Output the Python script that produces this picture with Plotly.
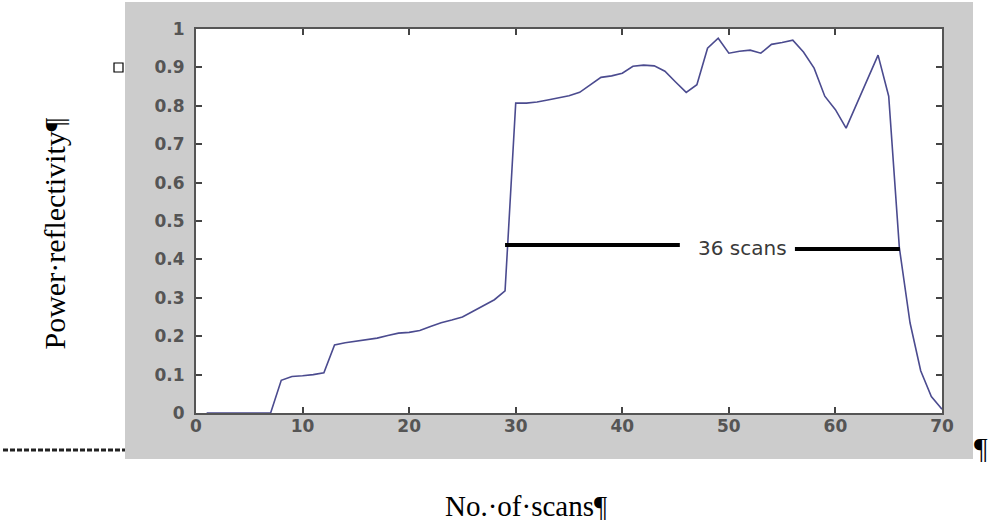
import plotly.graph_objects as go

# ---- data ----
scans = list(range(1, 71))
reflectivity = [
    0.0, 0.0, 0.0, 0.0, 0.0, 0.0, 0.0,            # 1-7
    0.085, 0.095, 0.097, 0.100, 0.105,            # 8-12
    0.177, 0.183, 0.187, 0.190, 0.195, 0.202, 0.208, 0.210,  # 13-20
    0.215, 0.225, 0.235, 0.242, 0.250,            # 21-25
    0.265, 0.280, 0.295, 0.318,                   # 26-29
    0.807, 0.807, 0.810, 0.815, 0.820, 0.826, 0.835,  # 30-36
    0.855, 0.874, 0.878, 0.885, 0.903, 0.906, 0.904,  # 37-43
    0.890, 0.862, 0.835, 0.855, 0.950, 0.976, 0.937,  # 44-50
    0.942, 0.945, 0.937, 0.960, 0.965, 0.971, 0.940,  # 51-57
    0.898, 0.825, 0.790, 0.742, 0.805, 0.868, 0.932,  # 58-64
    0.825, 0.430, 0.235, 0.110, 0.043, 0.010       # 65-70
]
x_ticks = [0, 10, 20, 30, 40, 50, 60, 70]
y_ticks = [0, 0.1, 0.2, 0.3, 0.4, 0.5, 0.6, 0.7, 0.8, 0.9, 1.0]
y_tick_labels = ["0", "0.1", "0.2", "0.3", "0.4", "0.5", "0.6", "0.7", "0.8", "0.9", "1"]
span_label = "36 scans"
x_title = "No.·of·scans¶"
y_title = "Power·reflectivity¶"

W, H = 988, 529
L, R, T, B = 196, 46, 29, 116
pw, ph = W - L - R, H - T - B

def px_x(p):
    return (p - L) / pw

def px_y(p):
    return (H - B - p) / ph

fig = go.Figure()
fig.add_trace(go.Scatter(
    x=scans, y=reflectivity, mode="lines",
    line=dict(color="#4b4b8f", width=1.6), showlegend=False,
    hoverinfo="skip"))

shapes = [
    # grey figure frame
    dict(type="rect", xref="paper", yref="paper", layer="below",
         x0=px_x(125), x1=px_x(973), y0=px_y(459), y1=px_y(2),
         fillcolor="#cccccc", line=dict(width=0)),
    # white plot area
    dict(type="rect", xref="paper", yref="paper", layer="below",
         x0=0, x1=1, y0=0, y1=1, fillcolor="white", line=dict(width=0)),
    # span markers
    dict(type="line", xref="x", yref="y", x0=29.0, x1=45.4, y0=0.4375, y1=0.4375,
         line=dict(color="black", width=4)),
    dict(type="line", xref="x", yref="y", x0=56.2, x1=66.05, y0=0.427, y1=0.427,
         line=dict(color="black", width=4)),
    # small square marker
    dict(type="rect", xref="paper", yref="paper",
         x0=px_x(114), x1=px_x(123), y0=px_y(72), y1=px_y(63),
         fillcolor="white", line=dict(color="black", width=1.2)),
    # dotted line
    dict(type="line", xref="paper", yref="paper",
         x0=px_x(3), x1=px_x(125), y0=px_y(450), y1=px_y(450),
         line=dict(color="#222222", width=3, dash="5px,2px")),
]

annotations = [
    dict(x=51.3, y=0.43, xref="x", yref="y", text=span_label, showarrow=False,
         font=dict(family="DejaVu Sans", size=20, color="#3a3a3a")),
    dict(x=px_x(526), y=px_y(524), xref="paper", yref="paper", text=x_title,
         showarrow=False, font=dict(family="Liberation Serif", size=29, color="black")),
    dict(x=px_x(35), y=px_y(234), xref="paper", yref="paper", text=y_title,
         textangle=-90, showarrow=False,
         font=dict(family="Liberation Serif", size=30, color="black")),
    dict(x=px_x(972), y=px_y(466), xref="paper", yref="paper", text="¶",
         xanchor="left", showarrow=False,
         font=dict(family="Liberation Serif", size=30, color="black")),
]

axis_common = dict(
    showline=True, linecolor="#555555", linewidth=2, mirror="allticks",
    ticks="inside", ticklen=6, tickcolor="#444444", tickwidth=1.5,
    showgrid=False, zeroline=False,
    tickfont=dict(family="DejaVu Sans", size=17, color="#555555", weight="bold"),
)

fig.update_layout(
    width=W, height=H,
    margin=dict(l=L, r=R, t=T, b=B, autoexpand=False),
    paper_bgcolor="white", plot_bgcolor="white",
    shapes=shapes, annotations=annotations,
    xaxis=dict(range=[0, 70], tickvals=x_ticks, ticklabelstandoff=-3, **axis_common),
    yaxis=dict(range=[0, 1], tickvals=y_ticks, ticktext=y_tick_labels,
               ticklabelstandoff=6, **axis_common),
)

fig.write_html("out.html", config={"displayModeBar": False},
               post_script="document.body.style.margin='0';")
